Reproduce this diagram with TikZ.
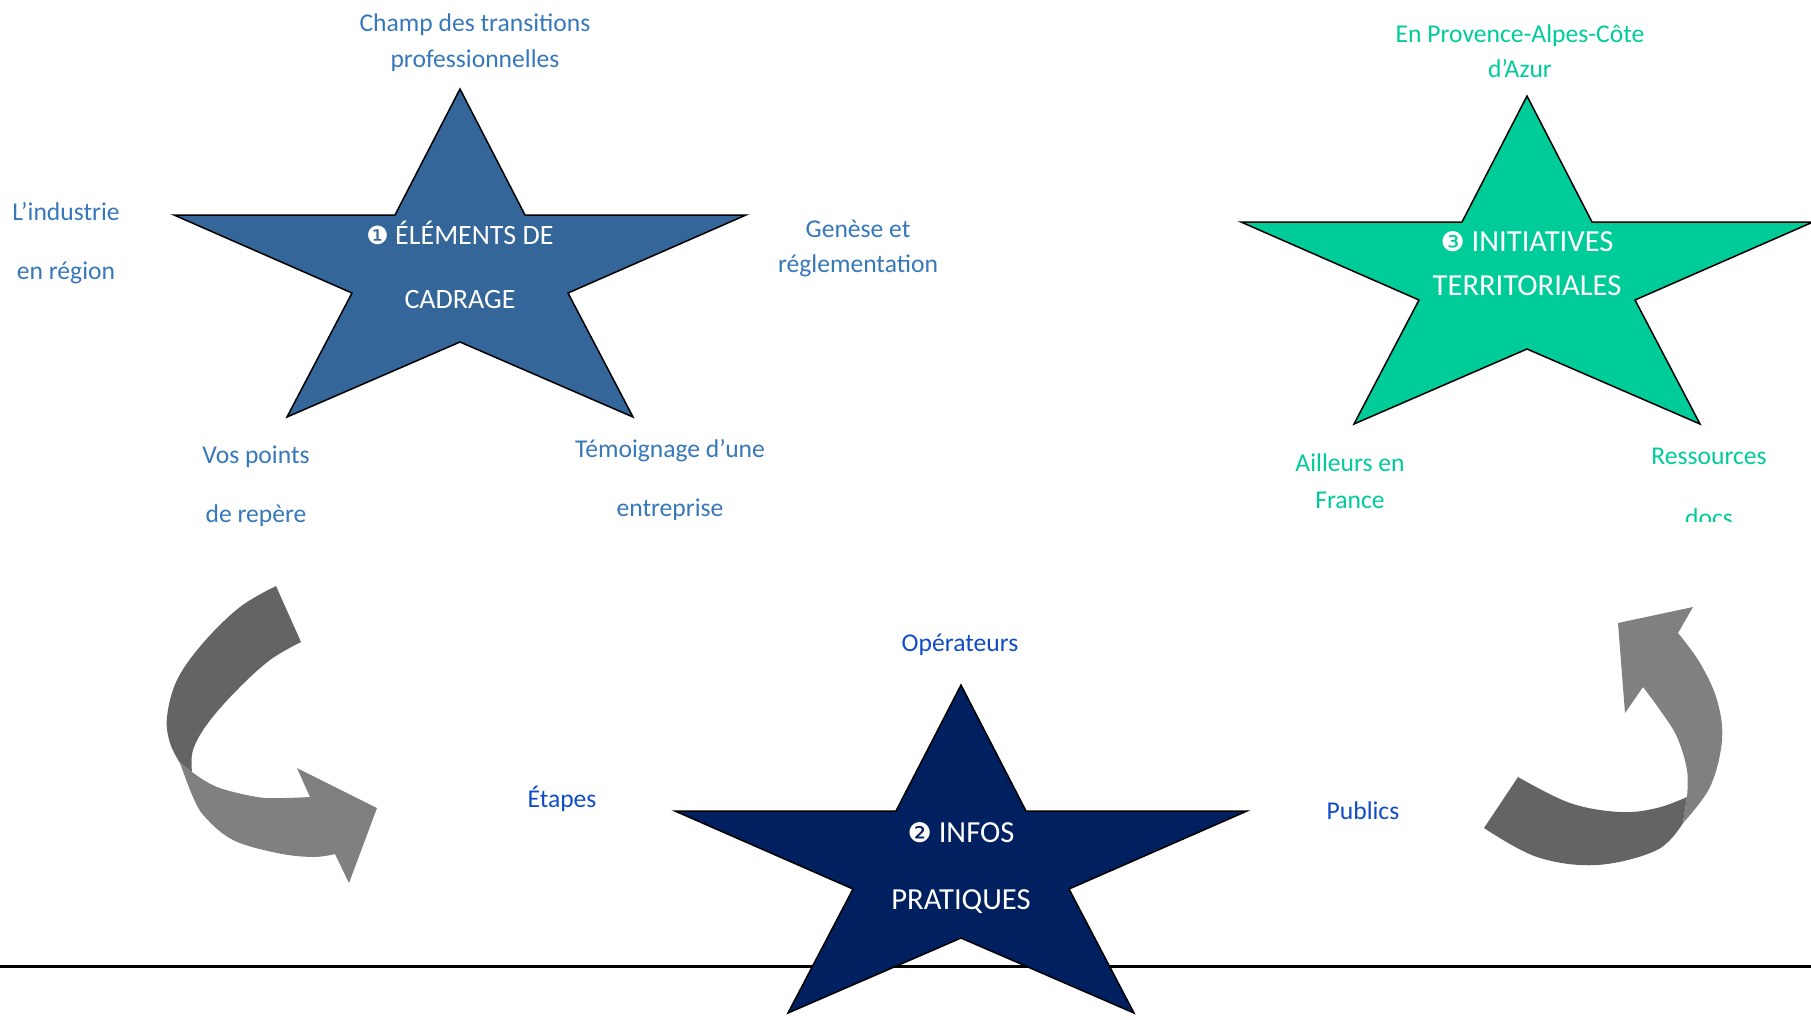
\documentclass[tikz,border=0pt]{standalone}
\usepackage{fontspec}
\setmainfont{Carlito}
\newfontfamily\dingfont{DejaVu Sans}
\definecolor{starA}{RGB}{52,102,153}
\definecolor{starB}{RGB}{0,32,96}
\definecolor{starC}{RGB}{0,204,153}
\definecolor{labA}{RGB}{54,120,186}
\definecolor{labB}{RGB}{16,76,200}
\definecolor{labC}{RGB}{0,204,153}
\definecolor{arrDark}{RGB}{100,100,100}
\definecolor{arrLight}{RGB}{128,128,128}
\tikzset{
  starpic/.pic={
    \path[pic actions] (0,0) -- (65,126) -- (286,126) -- (108,204) -- (173,328)
      -- (0,253) -- (-173,328) -- (-108,204) -- (-286,126) -- (-65,126) -- cycle;
  },
  starstyle/.style={draw=black, line width=0.75pt, line join=miter},
  startext/.style={anchor=base, inner sep=0pt, text=white,
    font=\fontsize{14pt}{17pt}\selectfont},
  startextbig/.style={startext, font=\fontsize{15.3pt}{18pt}\selectfont},
  labelA/.style={anchor=base, inner sep=0pt, text=labA,
    font=\fontsize{12.8pt}{15pt}\selectfont},
  labelB/.style={labelA, text=labB},
  labelC/.style={labelA, text=labC},
  darkpart/.style={fill=arrDark},
  lightpart/.style={fill=arrLight},
}
\newcommand{\circnum}[1]{{\dingfont\fontsize{12.5pt}{15pt}\selectfont\char"#1}}
\newcommand{\circnumbig}[1]{{\dingfont\fontsize{13.5pt}{16pt}\selectfont\char"#1}}
\begin{document}
\begin{tikzpicture}[x=0.5pt, y=-0.5pt]
\useasboundingbox (0,0) rectangle (1811,1019);

% baseline rule
\coordinate (ruleL) at (0,966);
\coordinate (ruleR) at (1811,966);
\draw[line width=1.5pt] (ruleL) -- (ruleR);

% stars
\pic[starstyle, fill=starA] at (460,89) {starpic};
\pic[starstyle, fill=starC] at (1527,96) {starpic};
\pic[starstyle, fill=starB] at (961,685) {starpic};

% star texts
\node[startext] (s1a) at (460,244) {\circnum{2776}\ ÉLÉMENTS DE};
\node[startext] (s1b) at (460,308) {CADRAGE};
\node[startextbig] (s3a) at (1527,251) {\circnumbig{2778}\ INITIATIVES};
\node[startextbig] (s3b) at (1527,295) {TERRITORIALES};
\node[startextbig] (s2a) at (961,842) {\circnumbig{2777}\ INFOS};
\node[startextbig] (s2b) at (961,909) {PRATIQUES};

% labels around star 1
\node[labelA] (champ1) at (475,31) {Champ des transitions};
\node[labelA] (champ2) at (475,67) {professionnelles};
\node[labelA] (indus1) at (66,220) {L’industrie};
\node[labelA] (indus2) at (66,279) {en région};
\node[labelA] (gen1) at (858,237) {Genèse et};
\node[labelA] (gen2) at (858,272) {réglementation};
\node[labelA] (vos1) at (256,463) {Vos points};
\node[labelA] (vos2) at (256,522) {de repère};
\node[labelA] (tem1) at (670,457) {Témoignage d’une};
\node[labelA] (tem2) at (670,516) {entreprise};

% labels around star 3
\node[labelC] (prov1) at (1520,42) {En Provence-Alpes-Côte};
\node[labelC] (prov2) at (1520,77) {d’Azur};
\node[labelC] (ail1) at (1350,471) {Ailleurs en};
\node[labelC] (ail2) at (1350,508) {France};
\node[labelC] (res1) at (1709,464) {Ressources};
\begin{scope}
  \clip (1600,480) rectangle (1811,521);
  \node[labelC] (res2) at (1709,526) {docs};
\end{scope}

% labels around star 2
\node[labelB] (oper) at (960,651) {Opérateurs};
\node[labelB] (etap) at (562,807) {Étapes};
\node[labelB] (publ) at (1363,819) {Publics};

% left curved arrow
\fill[darkpart] (276,586)
  -- plot[smooth, tension=0.6] coordinates {(276,586) (240,607) (203,643) (177,680) (167,717) (170,743) (180,763)}
  -- (192,772)
  -- plot[smooth, tension=0.6] coordinates {(192,772) (193,750) (208,723) (237,690) (270,660) (301,642)}
  -- cycle;
\fill[lightpart] (180,763)
  -- plot[smooth, tension=0.6] coordinates {(180,763) (193,797) (205,817) (233,840) (277,853) (313,857) (335,854)}
  -- (349,883) -- (377,808) -- (297,768) -- (310,797)
  -- plot[smooth, tension=0.6] coordinates {(310,797) (283,798) (257,797) (217,787) (192,772)}
  -- cycle;

% right curved arrow
\fill[darkpart] (1518,777) -- (1484,828)
  -- plot[smooth, tension=0.6] coordinates {(1484,828) (1537,857) (1597,865) (1657,850) (1683,823)}
  -- (1687,797)
  -- plot[smooth, tension=0.6] coordinates {(1687,797) (1657,808) (1620,812) (1570,803) (1518,777)}
  -- cycle;
\fill[lightpart] (1683,823)
  -- plot[smooth, tension=0.6] coordinates {(1683,823) (1710,787) (1722,740) (1717,700) (1700,663) (1678,633)}
  -- (1693,607) -- (1618,623) -- (1625,713) -- (1643,687)
  -- plot[smooth, tension=0.6] coordinates {(1643,687) (1660,710) (1677,737) (1687,770) (1687,797)}
  -- cycle;
\end{tikzpicture}
\end{document}
